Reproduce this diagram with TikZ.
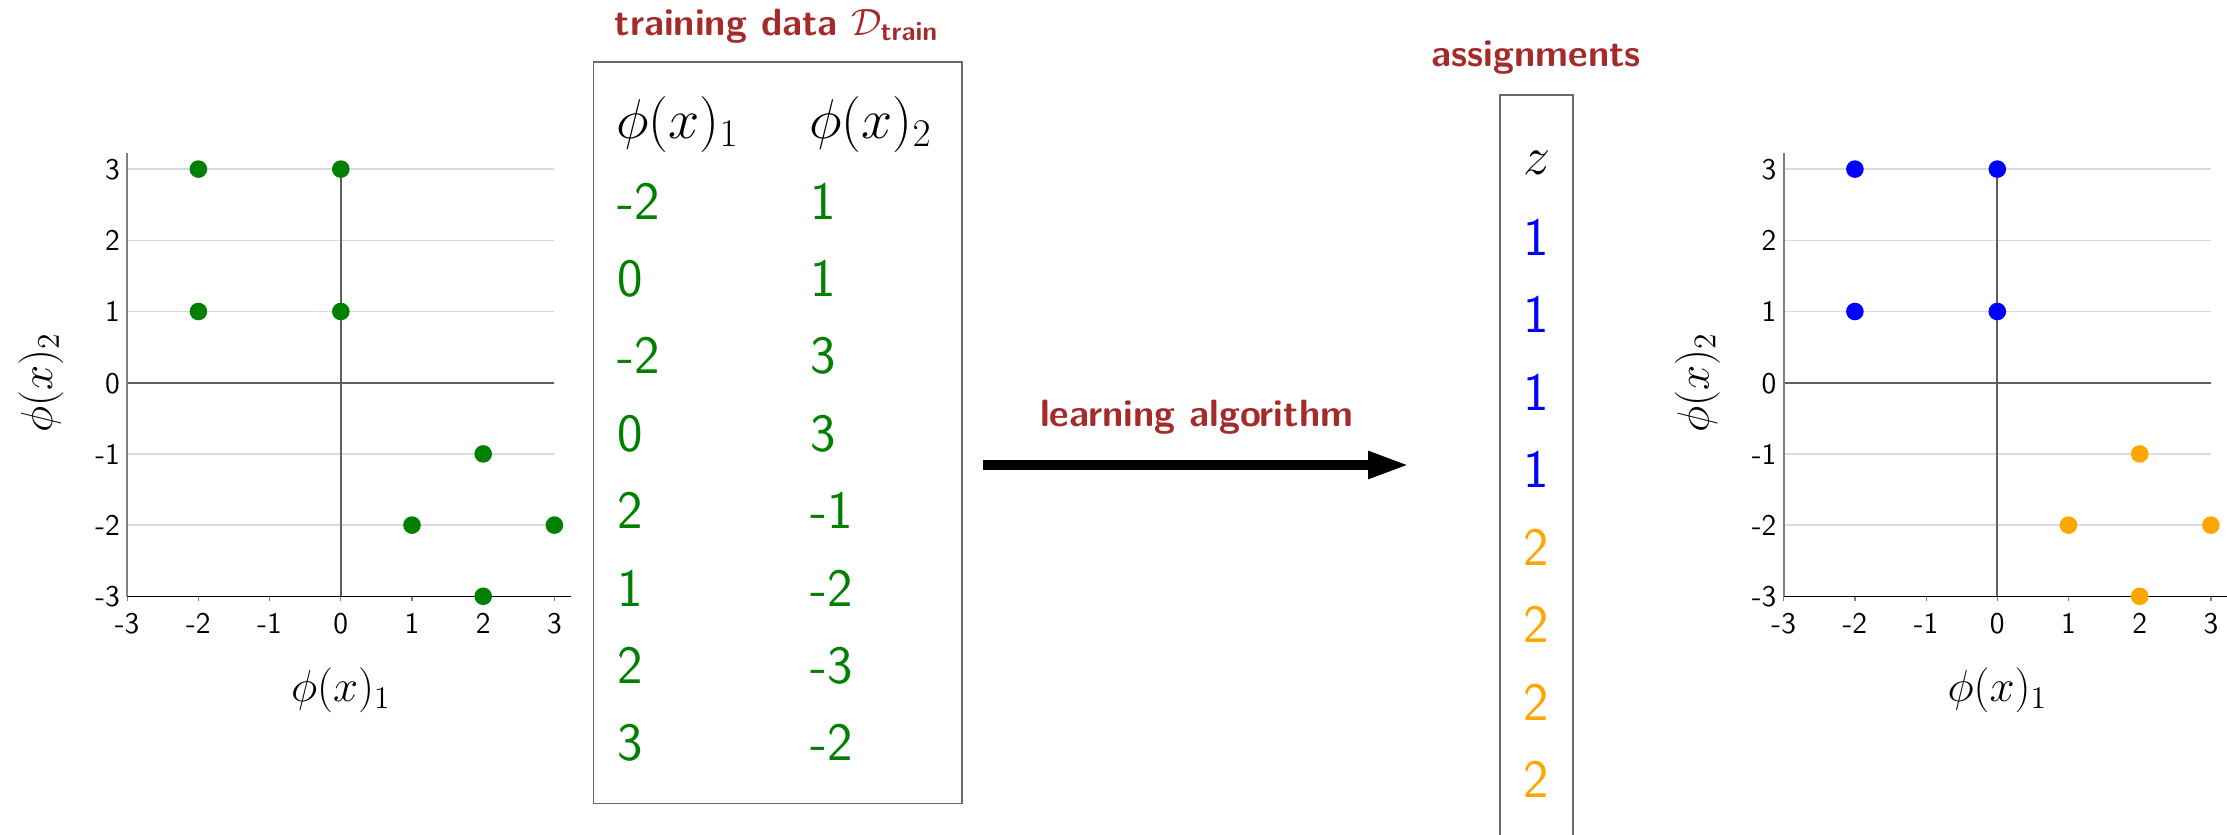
\RequirePackage{fix-cm}
\documentclass[tikz,border=0pt]{standalone}
\usepackage{amsmath}
\usetikzlibrary{arrows.meta}
\definecolor{titlered}{RGB}{165,42,42}
\definecolor{dgreen}{RGB}{0,128,0}
\definecolor{pblue}{RGB}{0,0,255}
\definecolor{porange}{RGB}{255,165,0}
\definecolor{gridgray}{RGB}{218,218,218}
\definecolor{axisgray}{RGB}{128,128,128}
\definecolor{zerogray}{RGB}{95,95,95}
\definecolor{boxgray}{RGB}{105,105,105}
\tikzset{
  gridline/.style={draw=gridgray, line width=0.7pt},
  zeroline/.style={draw=zerogray, line width=0.9pt},
  yaxisline/.style={draw=axisgray, line width=1.1pt},
  xaxisline/.style={draw=black, line width=0.8pt},
  tickline/.style={draw=axisgray, line width=0.6pt},
  ticklab/.style={inner sep=0pt, font=\fontsize{15}{17}\selectfont\sffamily},
  axlab/.style={inner sep=0pt, font=\fontsize{22.5}{26}\selectfont},
  titlelab/.style={inner sep=0pt, text=titlered, font=\fontsize{19}{23}\selectfont\sffamily\bfseries},
  cell/.style={inner sep=0pt, anchor=base west, font=\fontsize{27}{31}\selectfont\sffamily},
  headcell/.style={inner sep=0pt, anchor=base west, font=\fontsize{28}{32}\selectfont},
  zcell/.style={inner sep=0pt, anchor=base, font=\fontsize{27}{31}\selectfont\sffamily},
  framebox/.style={draw=boxgray, line width=0.8pt, inner sep=0pt},
  bigarrow/.style={line width=5.35pt, -{Triangle[length=21pt,width=12.5pt]}},
}
\newcommand\myplot[4]{%
\begin{scope}[shift={(#1,382.7)},x=35.6pt,y=35.6pt]
  \foreach \g in {3,2,1,-1,-2} \draw[gridline] (-3,\g) -- (3,\g);
  \draw[zeroline] (-3,0) -- (3,0);
  \draw[zeroline] (0,-3) -- (0,3);
  \draw[yaxisline] (-3,-3) -- (-3,3.23);
  \foreach \v in {-3,...,3} \draw[tickline] (\v,-3) -- ++(0,-2.5pt);
  \draw[xaxisline] (-3,-3) -- (3.23,-3);
  \foreach \v [count=\k] in {-3,...,3} {
    \node[ticklab,anchor=base] (#2xt\k) at ([yshift=-18.5pt]\v,-3) {\v};
    \node[ticklab,anchor=base east] (#2yt\k) at ([xshift=-3.5pt,yshift=-5.2pt]-3,\v) {\v};
  }
  \node[axlab,anchor=base] (#2xl) at ([yshift=-52.5pt]0,-3) {$\phi(x)_1$};
  \node[axlab,rotate=90] (#2yl) at ([xshift=-43.15pt]-3,0) {$\phi(x)_2$};
  \foreach \a/\b/\c [count=\k] in {-2/3/#3,0/3/#3,-2/1/#3,0/1/#3,2/-1/#4,1/-2/#4,3/-2/#4,2/-3/#4}
    \fill[\c] (\a,\b) circle[radius=4.4pt];
\end{scope}}
\begin{document}
\begin{tikzpicture}[x=0.5pt,y=-0.5pt]
\useasboundingbox (0,0) rectangle (2227,835);
\clip (0,0) rectangle (2227,835);

% left scatter plot
\myplot{340.8}{L}{dgreen}{dgreen}
% right scatter plot
\myplot{1997.3}{R}{pblue}{porange}

% training data table
\node[titlelab, anchor=base] (ttl) at (776.5,35) {training data $\mathcal{D}_{\textsf{\textbf{train}}}$};
\node[framebox, minimum width=184.35pt, minimum height=370.65pt] (tab) at (777.65,432.65) {};
\node[headcell] (h1) at (616,138) {$\phi(x)_1$};
\node[headcell] (h2) at (809,138) {$\phi(x)_2$};
\foreach \a/\b [count=\k from 0] in {-2/1,0/1,-2/3,0/3,2/-1,1/-2,2/-3,3/-2} {
  \node[cell, text=dgreen] (c1r\k) at (617.3,219+77.4*\k) {\a};
  \node[cell, text=dgreen] (c2r\k) at (810,219+77.4*\k) {\b};
}

% arrow
\node[titlelab, anchor=base] (learn) at (1196.7,426.7) {learning algorithm};
\coordinate (arrS) at (983,465);
\coordinate (arrE) at (1410,465);
\draw[bigarrow] (arrS) -- (arrE);

% assignments
\node[titlelab, anchor=base] (asgt) at (1536.3,66.7) {assignments};
\node[framebox, anchor=north, minimum width=36.65pt, minimum height=450pt] (asg) at (1536.5,94) {};
\node[zcell] (z0) at (1536.5,174.5) {$z$};
\foreach \v/\c [count=\k from 0] in {1/pblue,1/pblue,1/pblue,1/pblue,2/porange,2/porange,2/porange,2/porange}
  \node[zcell, text=\c] (z\k) at (1536.5,255+77.5*\k) {\v};
\end{tikzpicture}
\end{document}
